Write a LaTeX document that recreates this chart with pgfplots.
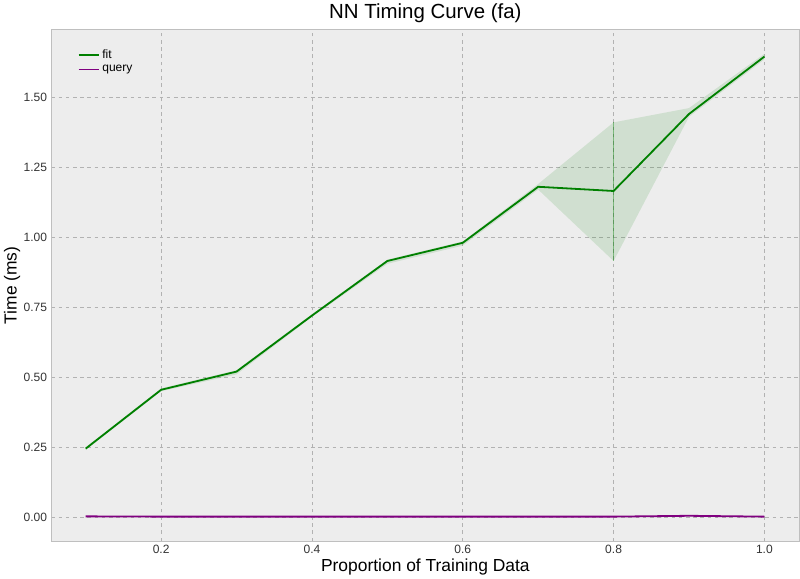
\documentclass[border=0pt]{standalone}
\usepackage{pgfplots}
\pgfplotsset{compat=1.18}
\usepgfplotslibrary{fillbetween}
\usepackage{fontspec}
\setmainfont{Liberation Sans}
\begin{document}
\begin{tikzpicture}
\begin{axis}[
  width=620bp, height=424bp, scale only axis,
  xmin=0.0544, xmax=1.0464, ymin=-0.086, ymax=1.741,
  axis background/.style={fill=black!7},
  axis line style={black!25, line width=1pt},
  grid=major, grid style={dashed, black!30, line width=0.5pt},
  major tick length=0pt,
  xtick={0.2,0.4,0.6,0.8,1.0}, ytick={0,0.25,0.5,0.75,1.0,1.25,1.5},
  /pgf/number format/assume math mode=true,
  xticklabel style={font=\fontsize{10}{12}\selectfont, text=black!80, /pgf/number format/.cd,fixed,fixed zerofill,precision=1},
  yticklabel style={font=\fontsize{10}{12}\selectfont, text=black!80, /pgf/number format/.cd,fixed,fixed zerofill,precision=2},
  title={NN Timing Curve (fa)}, title style={font=\fontsize{17}{20}\selectfont, yshift=-4pt},
  xlabel={Proportion of Training Data}, ylabel={Time (ms)},
  xlabel style={font=\fontsize{14.5}{17}\selectfont, yshift=3pt},
  ylabel style={font=\fontsize{14.5}{17}\selectfont, yshift=-4pt},
  legend pos=north west, legend cell align=left,
  legend style={draw=none, fill=none, font=\fontsize{10}{12}\selectfont},
]
\addplot[name path=up, draw=none, forget plot] coordinates {(0.1,0.25)(0.2,0.46)(0.3,0.525)(0.4,0.725)(0.5,0.92)(0.6,0.985)(0.7,1.19)(0.8,1.41)(0.9,1.461)(1.0,1.655)};
\addplot[name path=lo, draw=none, forget plot] coordinates {(0.1,0.24)(0.2,0.45)(0.3,0.51)(0.4,0.715)(0.5,0.905)(0.6,0.97)(0.7,1.17)(0.8,0.915)(0.9,1.43)(1.0,1.635)};
\addplot[green!50!black, fill opacity=0.12, forget plot] fill between[of=up and lo];
\addplot[green!50!black, opacity=0.4, line width=1pt, forget plot] coordinates {(0.8,0.915)(0.8,1.41)};
\addplot[color={rgb,255:red,0;green,128;blue,0}, line width=1.5pt] coordinates {(0.1,0.245)(0.2,0.455)(0.3,0.52)(0.4,0.72)(0.5,0.915)(0.6,0.98)(0.7,1.18)(0.8,1.165)(0.9,1.44)(1.0,1.645)};
\addlegendentry{fit}
\addplot[color={rgb,255:red,128;green,0;blue,128}, line width=1.5pt] coordinates {(0.1,0.003)(0.2,0.002)(0.3,0.002)(0.4,0.002)(0.5,0.002)(0.6,0.002)(0.7,0.002)(0.8,0.002)(0.9,0.005)(1.0,0.002)};
\addlegendentry{query}
\end{axis}
\end{tikzpicture}
\end{document}
